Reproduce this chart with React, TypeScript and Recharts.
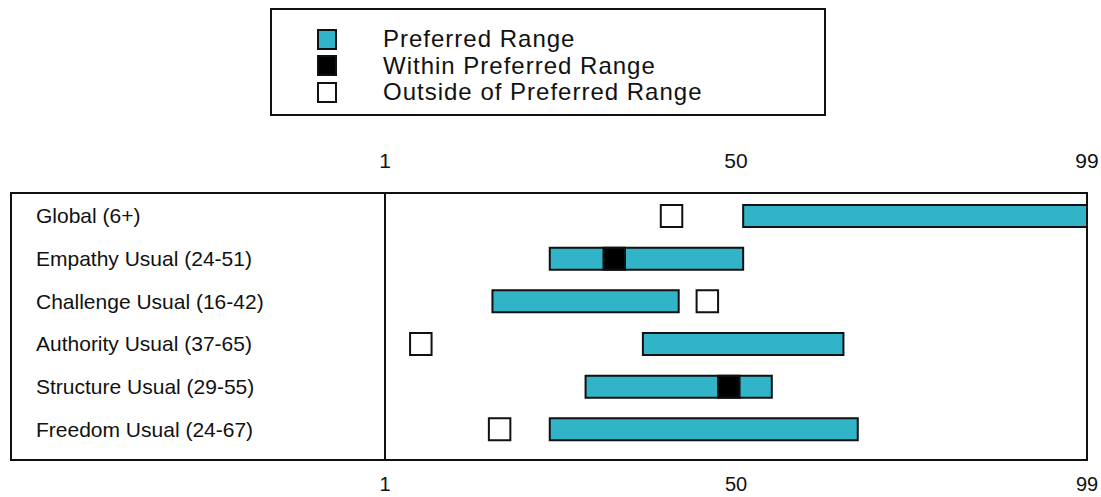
import { BarChart, Bar, XAxis, YAxis, Cell } from 'recharts';

const labels = [
  'Global (6+)',
  'Empathy Usual (24-51)',
  'Challenge Usual (16-42)',
  'Authority Usual (37-65)',
  'Structure Usual (29-55)',
  'Freedom Usual (24-67)',
];
const rangeLow = [51, 24, 16, 37, 29, 24];
const rangeHigh = [99, 51, 42, 65, 55, 67];
const scores = [41, 33, 46, 6, 49, 17];
const axisTicks = [1, 50, 99];

const legendItems = [
  { label: 'Preferred Range', fill: '#31b3c8' },
  { label: 'Within Preferred Range', fill: '#000' },
  { label: 'Outside of Preferred Range', fill: '#fff' },
];

const TEAL = '#31b3c8';
const INK = '#111';
const MARK_HALF = 1.5;
const FONT = '"Liberation Sans", Arial, Helvetica, sans-serif';

const rows = labels.map((label, i) => ({
  label,
  range: [rangeLow[i], rangeHigh[i]],
  mark: [scores[i] - MARK_HALF, scores[i] + MARK_HALF],
  within: scores[i] >= rangeLow[i] && scores[i] <= rangeHigh[i],
}));

function RowLabel({ y, payload }: any) {
  return (
    <text x={36} y={y} dy={7} fontSize={21} fill={INK} fontFamily={FONT} textAnchor="start">
      {payload.value}
    </text>
  );
}

export default function App() {
  return (
    <div style={{ position: 'absolute', left: 0, top: 0, width: 1101, height: 497, background: '#fff', fontFamily: FONT }}>
      <div
        style={{
          position: 'absolute', left: 270, top: 8, width: 556, height: 108, boxSizing: 'border-box',
          border: `2px solid ${INK}`, paddingTop: 16,
        }}
      >
        {legendItems.map((it) => (
          <div key={it.label} style={{ display: 'flex', alignItems: 'center', height: 26.5 }}>
            <div
              style={{
                marginLeft: 45, width: 20, height: 21, boxSizing: 'border-box',
                border: `2px solid ${INK}`, background: it.fill,
              }}
            />
            <span style={{ marginLeft: 46, fontSize: 24, letterSpacing: 1, color: INK, lineHeight: '26px' }}>
              {it.label}
            </span>
          </div>
        ))}
      </div>

      <BarChart
        width={1101}
        height={497}
        data={rows}
        layout="vertical"
        margin={{ top: 152, right: 14, bottom: 0, left: 10 }}
        barSize={22}
        barGap={-22}
      >
        <XAxis
          xAxisId="top" orientation="top" type="number" domain={[1, 99]} ticks={axisTicks}
          axisLine={false} tickLine={false} tickSize={0} tickMargin={24} height={40}
          tick={{ fontSize: 21, fill: INK, fontFamily: FONT }} interval={0}
        />
        <XAxis
          xAxisId="bottom" orientation="bottom" type="number" domain={[1, 99]} ticks={axisTicks}
          axisLine={false} tickLine={false} tickSize={0} tickMargin={17} height={37}
          tick={{ fontSize: 20, fill: INK, fontFamily: FONT }} interval={0}
        />
        <YAxis
          type="category" dataKey="label" width={375} tick={<RowLabel />} tickLine={false}
          axisLine={{ stroke: INK, strokeWidth: 2 }} padding={{ top: 3, bottom: 9 }} interval={0}
        />
        <Bar xAxisId="top" dataKey="range" fill={TEAL} stroke={INK} strokeWidth={2} isAnimationActive={false} />
        <Bar xAxisId="bottom" dataKey="mark" stroke={INK} strokeWidth={2} isAnimationActive={false}>
          {rows.map((r) => (
            <Cell key={r.label} fill={r.within ? '#000' : '#fff'} />
          ))}
        </Bar>
      </BarChart>

      <div
        style={{
          position: 'absolute', left: 10, top: 192, width: 1078, height: 269, boxSizing: 'border-box',
          border: `2px solid ${INK}`, pointerEvents: 'none',
        }}
      />
    </div>
  );
}
